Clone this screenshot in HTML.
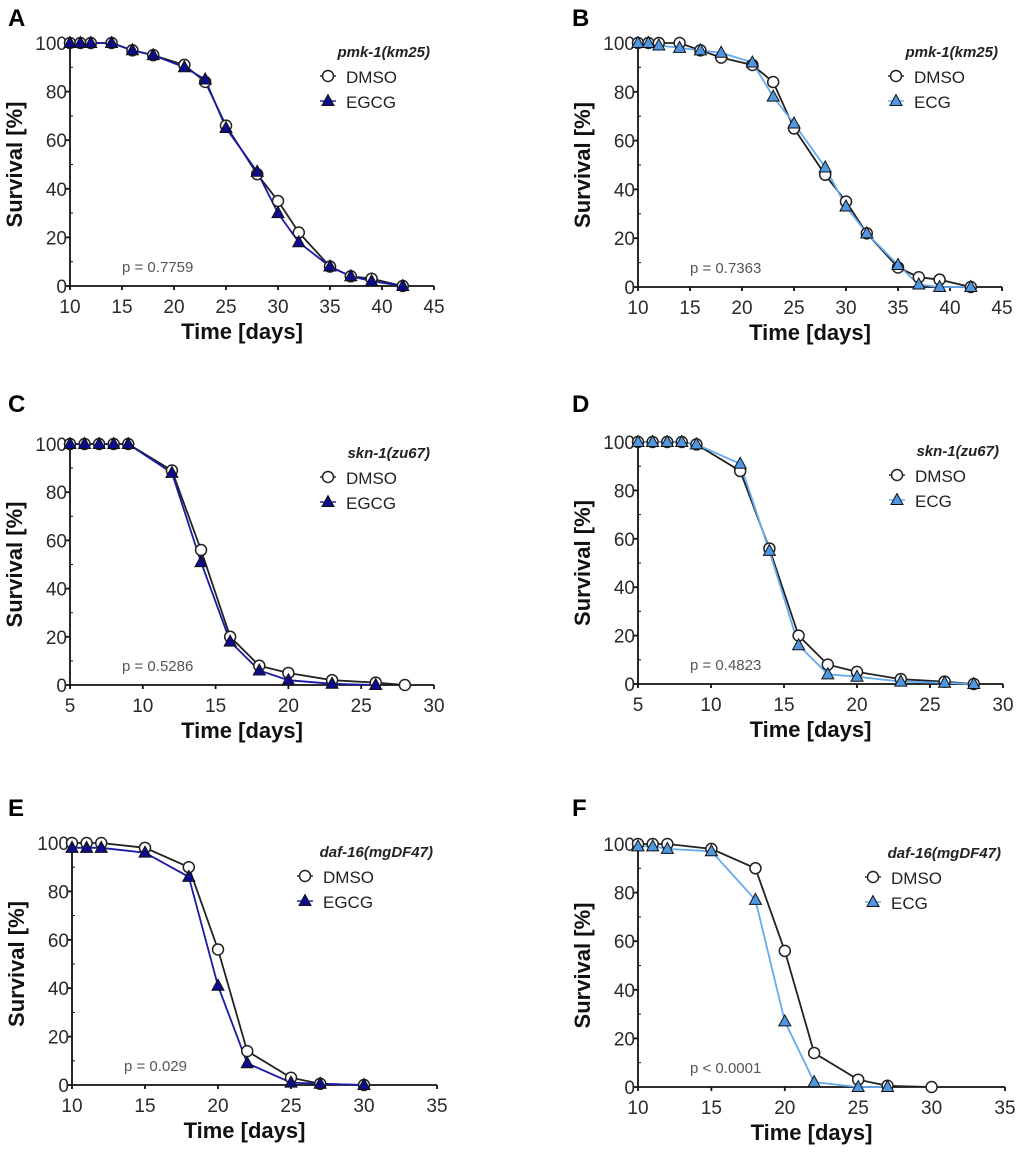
<!DOCTYPE html>
<html><head><meta charset="utf-8"><style>
body{margin:0;background:#fff;}
svg{display:block;font-family:"Liberation Sans",Arial,sans-serif;}
</style></head><body>
<svg id="fig" width="1020" height="1152" viewBox="0 0 1020 1152"></svg>
<script>
// ---- data ----
const aDays=[10,11,12,14,16,18,21,23,25,28,30,32,35,37,39,42];
const aDMSO=[100,100,100,100,97,95,91,84,66,46,35,22,8,4,3,0];
const aEGCG=[100,100,100,100,97,95,90,85,65,47,30,18,8,4,2,0];
const bDays=[10,11,12,14,16,18,21,23,25,28,30,32,35,37,39,42];
const bDMSO=[100,100,100,100,97,94,91,84,65,46,35,22,8,4,3,0];
const bECG=[100,100,99,98,97,96,92,78,67,49,33,22,9,1,0,0];
const cDaysD=[5,6,7,8,9,12,14,16,18,20,23,26,28];
const cDMSO=[100,100,100,100,100,89,56,20,8,5,2,1,0];
const cDaysT=[5,6,7,8,9,12,14,16,18,20,23,26];
const cEGCG=[100,100,100,100,100,88,51,18,6,2,0.5,0];
const dDays=[5,6,7,8,9,12,14,16,18,20,23,26,28];
const dDMSO=[100,100,100,100,99,88,56,20,8,5,2,1,0];
const dECG=[100,100,100,100,99,91,55,16,4,3,1,0.5,0];
const eDays=[10,11,12,15,18,20,22,25,27,30];
const eDMSO=[100,100,100,98,90,56,14,3,0.5,0];
const eEGCG=[98,98,98,96,86,41,9,1,0.5,0];
const fDaysD=[10,11,12,15,18,20,22,25,27,30];
const fDMSO=[100,100,100,98,90,56,14,3,0.5,0];
const fDaysT=[10,11,12,15,18,20,22,25,27];
const fECG=[99,99,98,97,77,27,2,0,0];
const xTicksLong=[10,15,20,25,30,35,40,45];
const xTicksShort=[5,10,15,20,25,30];
const xTicksE=[10,15,20,25,30,35];
const yTicks=[0,20,40,60,80,100];

const NS="http://www.w3.org/2000/svg";
const fig=document.getElementById('fig');
function mk(tag,attrs,parent,text){const e=document.createElementNS(NS,tag);for(const k in attrs)e.setAttribute(k,attrs[k]);if(text!==undefined)e.textContent=text;parent.appendChild(e);return e;}

const panels=[
 {L:'A',lx:8,ly:26,x0:70,x1:434,y100:43,y0:286,xmin:10,xmax:45,xt:xTicksLong,gene:'pmk-1(km25)',drug:'EGCG',dark:true,p:'p = 0.7759',dD:aDays,vD:aDMSO,dT:aDays,vT:aEGCG},
 {L:'B',lx:572,ly:26,x0:638,x1:1002,y100:43,y0:287,xmin:10,xmax:45,xt:xTicksLong,gene:'pmk-1(km25)',drug:'ECG',dark:false,p:'p = 0.7363',dD:bDays,vD:bDMSO,dT:bDays,vT:bECG},
 {L:'C',lx:8,ly:412,x0:70,x1:434,y100:444,y0:685,xmin:5,xmax:30,xt:xTicksShort,gene:'skn-1(zu67)',drug:'EGCG',dark:true,p:'p = 0.5286',dD:cDaysD,vD:cDMSO,dT:cDaysT,vT:cEGCG},
 {L:'D',lx:572,ly:412,x0:638,x1:1003,y100:442,y0:684,xmin:5,xmax:30,xt:xTicksShort,gene:'skn-1(zu67)',drug:'ECG',dark:false,p:'p = 0.4823',dD:dDays,vD:dDMSO,dT:dDays,vT:dECG},
 {L:'E',lx:8,ly:816,x0:72,x1:437,y100:843,y0:1085,xmin:10,xmax:35,xt:xTicksE,gene:'daf-16(mgDF47)',drug:'EGCG',dark:true,p:'p = 0.029',dD:eDays,vD:eDMSO,dT:eDays,vT:eEGCG},
 {L:'F',lx:572,ly:816,x0:638,x1:1005,y100:844,y0:1087,xmin:10,xmax:35,xt:xTicksE,gene:'daf-16(mgDF47)',drug:'ECG',dark:false,p:'p < 0.0001',dD:fDaysD,vD:fDMSO,dT:fDaysT,vT:fECG}
];

panels.forEach(P=>{
  const g=mk('g',{},fig);
  
  
  const X=v=>P.x0+(v-P.xmin)/(P.xmax-P.xmin)*(P.x1-P.x0);
  const Y=v=>P.y0-(v/100)*(P.y0-P.y100);
  const lineCol=P.dark?'#1a1aa8':'#66aaf0';
  const fillCol=P.dark?'#0c0c8c':'#4f97e0';
  const lab=mk('text',{x:P.lx,y:P.ly,'font-size':24,'font-weight':'bold',fill:'#000'},g,P.L);
  
  const ax=mk('g',{stroke:'#111','stroke-width':1.8},g);
  
  mk('line',{x1:P.x0,y1:P.y100-2,x2:P.x0,y2:P.y0},ax);
  mk('line',{x1:P.x0,y1:P.y0,x2:P.x1,y2:P.y0},ax);
  yTicks.forEach(t=>{
    mk('line',{x1:P.x0-4,y1:Y(t),x2:P.x0,y2:Y(t)},ax);
    if(t<100) mk('line',{x1:P.x0,y1:Y(t+10),x2:P.x0+3,y2:Y(t+10),'stroke-width':1},ax);
    const tl=mk('text',{x:P.x0-3,y:Y(t)+7,'text-anchor':'end','font-size':19,fill:'#2a2a2a',stroke:'none'},g,String(t));
    
  });
  P.xt.forEach(t=>{
    mk('line',{x1:X(t),y1:P.y0,x2:X(t),y2:P.y0+4},ax);
    const tl=mk('text',{x:X(t),y:P.y0+27,'text-anchor':'middle','font-size':19,fill:'#2a2a2a',stroke:'none'},g,String(t));
    
  });
  const yt=mk('text',{x:0,y:0,transform:`translate(${P.x0-48},${(P.y0+P.y100)/2}) rotate(-90)`,'text-anchor':'middle','font-size':22,'font-weight':'bold',fill:'#111'},g,'Survival [%]');
  
  const xtt=mk('text',{x:(P.x0+P.x1)/2-10,y:P.y0+53,'text-anchor':'middle','font-size':22,'font-weight':'bold',fill:'#111'},g,'Time [days]');
  
  const pv=mk('text',{x:P.x0+52,y:P.y0-14,'font-size':15,fill:'#555'},g,P.p);
  
  const pts=(d,v)=>d.map((x,i)=>X(x).toFixed(1)+','+Y(v[i]).toFixed(1)).join(' ');
  const lD=mk('polyline',{points:pts(P.dD,P.vD),fill:'none',stroke:'#222','stroke-width':1.8},g);
  
  const lT=mk('polyline',{points:pts(P.dT,P.vT),fill:'none',stroke:lineCol,'stroke-width':1.8},g);
  
  P.dD.forEach((x,i)=>{
    const c=mk('circle',{cx:X(x),cy:Y(P.vD[i]),r:5.5,fill:'#fff',stroke:'#222','stroke-width':1.5},g);
    
  });
  const tri=(cx,cy)=>`${cx},${cy-6.5} ${cx-6},${cy+4.5} ${cx+6},${cy+4.5}`;
  P.dT.forEach((x,i)=>{
    const t=mk('polygon',{points:tri(X(x),Y(P.vT[i])),fill:fillCol,stroke:'#111','stroke-width':1},g);
    
  });
  const lg=mk('g',{},g);
  
  const lx=P.x1-4;
  mk('text',{x:lx,y:P.y100+14,'text-anchor':'end','font-size':15,'font-weight':'bold','font-style':'italic',fill:'#222'},lg,P.gene);
  const gx=lx-(P.gene.length>12?128:102);
  mk('line',{x1:gx-8,y1:P.y100+33,x2:gx+8,y2:P.y100+33,stroke:'#222','stroke-width':1.4},lg);
  mk('circle',{cx:gx,cy:P.y100+33,r:5.5,fill:'#fff',stroke:'#222','stroke-width':1.5},lg);
  mk('text',{x:gx+18,y:P.y100+40,'font-size':17,fill:'#222'},lg,'DMSO');
  mk('line',{x1:gx-8,y1:P.y100+58,x2:gx+8,y2:P.y100+58,stroke:lineCol,'stroke-width':1.4},lg);
  mk('polygon',{points:tri(gx,P.y100+58),fill:fillCol,stroke:'#111','stroke-width':1},lg);
  mk('text',{x:gx+18,y:P.y100+65,'font-size':17,fill:'#222'},lg,P.drug);
});
</script>
</body></html>
